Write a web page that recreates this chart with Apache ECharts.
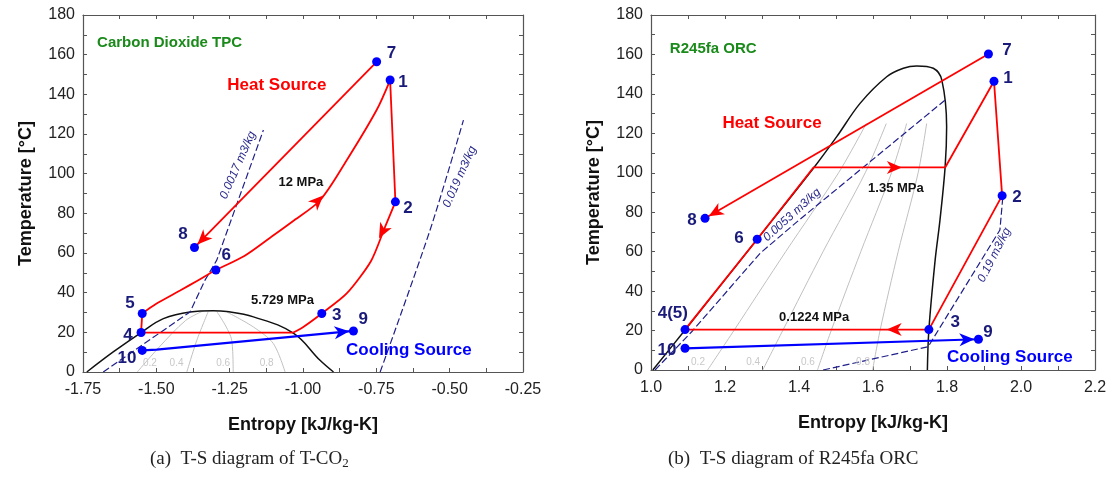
<!DOCTYPE html>
<html><head><meta charset="utf-8">
<script src="https://cdn.jsdelivr.net/npm/echarts@6/dist/echarts.min.js"></script>
<style>html,body{margin:0;padding:0;background:#fff}#c{width:1115px;height:478px}</style>
</head><body><div id="c"></div>
<script>
// ---------- Panel (a): T-CO2 ----------
const co2Points = [['7',-0.749,156.4],['1',-0.703,147.2],['2',-0.685,85.8],['3',-0.936,29.5],['4',-1.552,19.9],['5',-1.548,29.5],['6',-1.297,51.4],['8',-1.370,62.8],['9',-0.828,20.7],['10',-1.548,10.9]];
const co2Dome = [[-1.737,0],[-1.647,10.1],[-1.552,19.9],[-1.476,26.9],[-1.385,30.3],[-1.306,30.9],[-1.260,30.5],[-1.169,27.8],[-1.033,19.6],[-0.942,5.9],[-0.896,0]];
const co2Q02 = [[-1.565,0],[-1.49,12.6],[-1.40,26],[-1.34,30.8]];
const co2Q04 = [[-1.396,0],[-1.362,16],[-1.323,30.5]];
const co2Q06 = [[-1.238,0],[-1.243,16],[-1.294,30.5]];
const co2Q08 = [[-1.061,0],[-1.101,14.3],[-1.169,22.7],[-1.260,30.3]];
const co2Iso0017 = [[-1.681,0],[-1.385,30.3],[-1.334,46.3],[-1.294,56.4],[-1.135,122]];
const co2Iso019 = [[-0.737,0],[-0.567,71.5],[-0.453,127]];
const co2Turbine = [[-0.703,147.2],[-0.685,85.8]];
const co2Cooler = [[-0.685,85.8],[-0.722,72.5],[-0.768,56.0],[-0.851,39.6],[-0.936,29.5],[-0.999,22.7],[-1.033,19.9]];
const co2Condense = [[-1.033,19.9],[-1.552,19.9]];
const co2Pump = [[-1.552,19.9],[-1.548,29.5]];
const co2Heater = [[-1.548,29.5],[-1.499,34.5],[-1.419,41.1],[-1.357,46.3],[-1.297,51.4],[-1.20,58.5],[-1.112,67.7],[-1.03,76.5],[-0.942,86.6],[-0.851,106.8],[-0.749,132.1],[-0.703,147.2]];
const co2HeatSource = [[-0.749,156.4],[-1.370,62.8]];
const co2CoolSource = [[-1.548,10.9],[-1.499,11.3],[-0.828,20.7]];
const co2XTicks = [-1.75,-1.50,-1.25,-1.00,-0.75,-0.50,-0.25];

// ---------- Panel (b): R245fa ORC ----------
const orcPoints = [['7',1.912,160.2],['1',1.927,146.4],['2',1.949,88.4],['3',1.751,20.5],['4(5)',1.092,20.5],['6',1.287,66.3],['8',1.146,76.9],['9',1.885,15.6],['10',1.092,11.0]];
const orcDome = [[1.005,0],[1.092,20.3],[1.287,66.3],[1.439,102.3],[1.502,118.3],[1.565,135.2],[1.637,148.7],[1.682,153],[1.718,154.2],[1.763,153],[1.786,147],[1.799,123.4],[1.795,103.1],[1.781,76],[1.768,55.8],[1.751,20.3],[1.747,0]];
const orcQ02 = [[1.153,0],[1.224,20],[1.364,60],[1.507,100],[1.582,125]];
const orcQ04 = [[1.302,0],[1.356,20],[1.465,60],[1.579,100],[1.636,125]];
const orcQ06 = [[1.450,0],[1.487,20],[1.567,60],[1.650,100],[1.691,125]];
const orcQ08 = [[1.599,0],[1.619,20],[1.668,60],[1.722,100],[1.745,125]];
const orcIso0053 = [[1.011,0],[1.110,19.4],[1.295,59.2],[1.40,76],[1.795,136.9]];
const orcIso019 = [[1.465,0],[1.749,11.8],[1.943,71],[1.951,88]];
const orcCycle = [[1.092,20.5],[1.287,66.3],[1.439,102.7],[1.795,102.7],[1.927,146.4],[1.949,88.4],[1.751,20.5],[1.092,20.5]];
const orcHeatSource = [[1.912,160.2],[1.146,76.9]];
const orcCoolSource = [[1.092,11.0],[1.885,15.6]];
const orcXTicks = [1.0,1.2,1.4,1.6,1.8,2.0,2.2];
const tempTicks = [0,20,40,60,80,100,120,140,160,180];

// arrowheads: [panel, point behind, tip, colour key]
const arrowHeads = [
  [0, [-0.955,85.5], [-0.931,89.0], 'red'],
  [0, [-0.716,74.5], [-0.741,67.5], 'red'],
  [0, [-0.749,156.4], [-1.360,64.3], 'red'],
  [0, [-1.499,11.3], [-0.842,20.5], 'blue'],
  [1, [1.60,102.7], [1.678,102.7], 'red'],
  [1, [1.70,20.5], [1.637,20.5], 'red'],
  [1, [1.912,160.2], [1.156,78.0], 'red'],
  [1, [1.092,11.0], [1.874,15.55], 'blue']
];

// text annotations: [panel, text, s, T, style, rotate]
const annotations = [
  [0,'Carbon Dioxide TPC',-1.702,165.8,'green',0],
  [0,'Heat Source',-1.089,144.7,'red',0],
  [0,'12 MPa',-1.007,95.7,'press',0],
  [0,'5.729 MPa',-1.070,36.2,'press',0],
  [0,'Cooling Source',-0.639,11,'blue',0],
  [0,'0.0017 m3/kg',-1.222,104.3,'iso',66],
  [0,'0.019 m3/kg',-0.466,98.4,'iso',66],
  [0,'0.2',-1.522,4.2,'q',0],[0,'0.4',-1.431,4.2,'q',0],[0,'0.6',-1.272,4.2,'q',0],[0,'0.8',-1.124,4.2,'q',0],
  [1,'R245fa ORC',1.051,162.8,'green',0],
  [1,'Heat Source',1.327,125.3,'red',0],
  [1,'1.35 MPa',1.662,92.3,'press',0],
  [1,'0.1224 MPa',1.441,26.9,'press',0],
  [1,'Cooling Source',1.970,6.6,'blue',0],
  [1,'0.0053 m3/kg',1.381,78.6,'iso',42],
  [1,'0.19 m3/kg',1.928,58.3,'iso',63],
  [1,'0.2',1.127,3.7,'q',0],[1,'0.4',1.276,3.7,'q',0],[1,'0.6',1.424,3.7,'q',0],[1,'0.8',1.573,3.7,'q',0]
];
// point-number label anchors: [panel, text, s, T]
const pointLabels = [
  [0,'7',-0.698,160.7],[0,'1',-0.659,146.3],[0,'2',-0.642,82.6],[0,'3',-0.885,28.6],[0,'9',-0.795,26.6],
  [0,'8',-1.409,69.5],[0,'6',-1.262,58.9],[0,'5',-1.590,34.8],[0,'4',-1.597,18.5],[0,'10',-1.600,6.9],
  [1,'7',1.962,162.3],[1,'1',1.965,148.1],[1,'2',1.989,87.7],[1,'3',1.822,24.3],[1,'9',1.911,19.3],
  [1,'8',1.111,76.1],[1,'6',1.238,66.9],[1,'4(5)',1.059,28.9],[1,'10',1.043,10.1]
];

const FONT = 'Liberation Sans, Arial, sans-serif';
const C = {red:'#ff0000', blue:'#0000ff', navy:'#1f1f8a', dome:'#111', q:'#c0c0c0', frame:'#555'};
const textStyles = {
  green:{color:'#1a8a1a',fontSize:15,fontWeight:'bold',align:'left'},
  red:{color:'#ff0000',fontSize:17,fontWeight:'bold'},
  blue:{color:'#0000ff',fontSize:17,fontWeight:'bold'},
  press:{color:'#111',fontSize:13,fontWeight:'bold'},
  iso:{color:'#2a2a8c',fontSize:12,fontStyle:'italic'},
  q:{color:'#c8c8c8',fontSize:10}
};
const ARROW_PATH = 'path://M0,0 L16,7 L0,14 L4.5,7 Z';

const chart = echarts.init(document.getElementById('c'), null, {renderer:'canvas'});
const isMult = (v, m) => Math.abs(v/m - Math.round(v/m)) < 1e-6;

function xAx(gi, pos, min, max, interval, step, dec, showLabel){
  return {type:'value', gridIndex:gi, position:pos, min, max, interval,
    axisLine:{show:true, onZero:false, lineStyle:{color:C.frame,width:1.2}},
    axisTick:{show:true, inside:true, length:4, lineStyle:{color:C.frame}},
    splitLine:{show:false},
    axisLabel:{show:showLabel, margin:10, color:'#222', fontSize:16, fontFamily:FONT,
      formatter: v => isMult(v, step) ? v.toFixed(dec) : ''},
    name: showLabel ? 'Entropy [kJ/kg-K]' : '', nameLocation:'middle', nameGap:44,
    nameTextStyle:{fontSize:18, fontWeight:'bold', color:'#111', fontFamily:FONT}};
}
function yAx(gi, pos, showLabel, gap){
  return {type:'value', gridIndex:gi, position:pos, min:tempTicks[0], max:tempTicks[tempTicks.length-1], interval:10,
    axisLine:{show:true, onZero:false, lineStyle:{color:C.frame,width:1.2}},
    axisTick:{show:true, inside:true, length:4, lineStyle:{color:C.frame}},
    splitLine:{show:false},
    axisLabel:{show:showLabel, margin:8, color:'#222', fontSize:16, fontFamily:FONT,
      formatter: v => tempTicks.includes(v) ? String(v) : ''},
    name: showLabel ? 'Temperature [°C]' : '', nameLocation:'middle', nameGap:gap,
    nameTextStyle:{fontSize:18, fontWeight:'bold', color:'#111', fontFamily:FONT}};
}

const series = [];
function addLine(gi, data, color, width, opt){
  opt = opt || {};
  series.push({type:'line', xAxisIndex:gi*2, yAxisIndex:gi*2, data, symbol:'none', showSymbol:false,
    smooth: opt.smooth || false, silent:true, z: opt.z || 2,
    lineStyle:{color, width, type: opt.dash || 'solid'}});
}

[co2Q02,co2Q04,co2Q06,co2Q08].forEach(d => addLine(0, d, C.q, 1, {smooth:0.3, z:1}));
[orcQ02,orcQ04,orcQ06,orcQ08].forEach(d => addLine(1, d, C.q, 1, {smooth:0.3, z:1}));
addLine(0, co2Dome, C.dome, 1.5, {smooth:0.4, z:2});
addLine(1, orcDome, C.dome, 1.5, {smooth:0.35, z:2});
addLine(0, co2Iso0017, C.navy, 1.2, {dash:[7,3], z:3});
addLine(0, co2Iso019, C.navy, 1.2, {dash:[7,3], smooth:0.3, z:3});
addLine(1, orcIso0053, C.navy, 1.2, {dash:[7,3], z:3});
addLine(1, orcIso019, C.navy, 1.2, {dash:[7,3], z:3});
addLine(0, co2Turbine, C.red, 1.8, {z:4});
addLine(0, co2Cooler, C.red, 1.8, {smooth:0.25, z:4});
addLine(0, co2Condense, C.red, 1.8, {z:4});
addLine(0, co2Pump, C.red, 1.8, {z:4});
addLine(0, co2Heater, C.red, 1.8, {smooth:0.3, z:4});
addLine(0, co2HeatSource, C.red, 1.8, {z:4});
addLine(0, co2CoolSource, C.blue, 2.2, {z:4});
addLine(1, orcCycle, C.red, 1.8, {z:4});
addLine(1, orcHeatSource, C.red, 1.8, {z:4});
addLine(1, orcCoolSource, C.blue, 2.2, {z:4});

const arrowSeriesIdx = [];
[0,1].forEach(gi => {
  arrowSeriesIdx.push(series.length);
  series.push({type:'scatter', xAxisIndex:gi*2, yAxisIndex:gi*2, symbol:ARROW_PATH, symbolSize:[15,13], silent:true, z:5,
    itemStyle:{opacity:1}, data:[]});
});
[co2Points, orcPoints].forEach((pts, gi) => {
  series.push({type:'scatter', xAxisIndex:gi*2, yAxisIndex:gi*2, symbol:'circle', symbolSize:9, silent:true, z:6,
    itemStyle:{color:'#0000ff', opacity:1}, data: pts.map(p => [p[1], p[2]])});
});
[0,1].forEach(gi => {
  series.push({type:'scatter', xAxisIndex:gi*2, yAxisIndex:gi*2, symbolSize:0.1, silent:true, z:7,
    itemStyle:{color:'rgba(0,0,0,0)', opacity:1},
    data: annotations.filter(a => a[0]===gi).map(a => {
      const st = textStyles[a[4]];
      return {value:[a[2], a[3]], label:{show:true, position:'inside', formatter:a[1], rotate:a[5],
        fontFamily:FONT, color:st.color, fontSize:st.fontSize, fontWeight:st.fontWeight||'normal',
        fontStyle:st.fontStyle||'normal', align:st.align||'center', verticalAlign:'middle'}};
    })});
  series.push({type:'scatter', xAxisIndex:gi*2, yAxisIndex:gi*2, symbolSize:0.1, silent:true, z:7,
    itemStyle:{color:'rgba(0,0,0,0)', opacity:1},
    data: pointLabels.filter(a => a[0]===gi).map(a => ({value:[a[2], a[3]], label:{show:true, position:'inside',
      formatter:a[1], fontFamily:FONT, color:'#1a1a7a', fontSize:17, fontWeight:'bold', align:'center', verticalAlign:'middle'}}))});
});

chart.setOption({
  animation:false,
  backgroundColor:'#fff',
  grid:[{left:83, top:15, width:440, height:357}, {left:651, top:15, width:444, height:355}],
  xAxis:[
    xAx(0,'bottom',co2XTicks[0],co2XTicks[co2XTicks.length-1],0.125,0.25,2,true),
    xAx(0,'top',co2XTicks[0],co2XTicks[co2XTicks.length-1],0.125,0.25,2,false),
    xAx(1,'bottom',orcXTicks[0],orcXTicks[orcXTicks.length-1],0.1,0.2,1,true),
    xAx(1,'top',orcXTicks[0],orcXTicks[orcXTicks.length-1],0.1,0.2,1,false)
  ],
  yAxis:[ yAx(0,'left',true,48), yAx(0,'right',false,0), yAx(1,'left',true,48), yAx(1,'right',false,0) ],
  series,
  graphic:[
    {type:'text', left:150, top:450, style:{text:'(a)  T-S diagram of T-CO{s|2}', font:'19px "Liberation Serif", serif', fill:'#222',
      rich:{s:{fontSize:13, fontFamily:'Liberation Serif', verticalAlign:'bottom', padding:[8,0,0,0]}}}},
    {type:'text', left:668, top:450, style:{text:'(b)  T-S diagram of R245fa ORC', font:'19px "Liberation Serif", serif', fill:'#222'}}
  ]
});

// orient arrowheads along their direction in pixel space
const arrowData = [[], []];
arrowHeads.forEach(a => {
  const finder = {xAxisIndex:a[0]*2, yAxisIndex:a[0]*2};
  const p1 = chart.convertToPixel(finder, a[1]);
  const p2 = chart.convertToPixel(finder, a[2]);
  const dx = p2[0]-p1[0], dy = p2[1]-p1[1];
  const len = Math.hypot(dx, dy);
  const ux = dx/len, uy = dy/len;
  const centre = chart.convertFromPixel(finder, [p2[0]-ux*7.5, p2[1]-uy*7.5]);
  arrowData[a[0]].push({value:centre, symbolRotate: Math.atan2(-dy, dx)*180/Math.PI, itemStyle:{color:C[a[3]]}});
});
const upd = series.map(() => ({}));
arrowSeriesIdx.forEach((idx, gi) => { upd[idx] = {data: arrowData[gi]}; });
chart.setOption({series: upd});
</script></body></html>
